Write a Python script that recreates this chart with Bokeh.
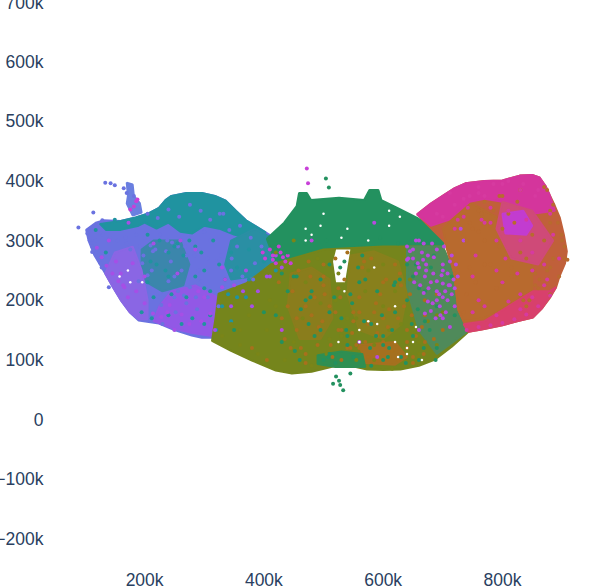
from bokeh.plotting import figure
from bokeh.models import FixedTicker
from bokeh.embed import file_html
from bokeh.resources import INLINE

x_ticks = [200, 400, 600, 800]
y_ticks = [-200, -100, 0, 100, 200, 300, 400, 500, 600, 700]
x_labels = ["200k", "400k", "600k", "800k"]
y_labels = ["\u2212200k", "\u2212100k", "0", "100k", "200k", "300k", "400k", "500k", "600k", "700k"]

# cluster envelopes (x, y in thousands)
lobe_x = [102,118,131,160,185,205,224,235,245,270,296,318,336,353,370,403,440,413,370,324,319,313,296,279,250,224,190,175,161,147,134,116,106]
lobe_y = [318,330,334,333,339,345,355,368,375,380,380,375,367,350,334,314,290,261,228,211,171,137,137,141,150,161,166,180,199,222,245,275,300]
bump_x = [170,180,182,192,195,180,170,172]
bump_y = [397,394,375,363,347,342,362,375]
teal_x = [125,160,185,205,224,235,245,270,296,318,336,353,370,403,385,350,325,300,280,260,240,220,200,190,160,135]
teal_y = [328,333,339,345,355,368,375,380,380,375,367,350,334,314,300,310,320,325,312,315,330,320,330,325,318,318]
teal2_x = [195,215,260,275,265,230,195]
teal2_y = [285,300,300,260,225,215,235]
teal3_x = [345,385,440,415,380,345,335]
teal3_y = [300,320,290,255,240,235,260]
purple_x = [215,250,280,313,322,322,285,245,225]
purple_y = [165,152,145,140,175,205,225,215,190]
purple2_x = [134,150,180,195,205,205,190,175,161,147]
purple2_y = [245,280,290,250,200,168,168,180,199,222]
dome_x = [405,434,455,459,472,479,526,568,577,592,597,627,657,674,703,690,640,600,560,500,450,420]
dome_y = [303,330,358,380,380,368,372,368,385,385,368,353,338,327,298,270,280,285,290,280,270,262]
body_x = [420,500,600,700,719,726,743,715,686,660,629,600,573,545,516,480,447,420,380,345,313,319,324,370,413]
body_y = [262,285,290,290,246,184,147,122,100,90,84,83,84,90,89,80,77,82,99,115,132,171,211,228,261]
brown_x = [545,585,625,640,630,600,560,540]
brown_y = [275,282,265,210,160,135,150,210]
brown2_x = [445,480,510,515,495,460,440]
brown2_y = [245,255,235,170,135,135,190]
brown3_x = [560,620,640,620,570]
brown3_y = [125,130,105,92,95]
greenlow_x = [490,530,565,570,520,490]
greenlow_y = [108,114,110,88,88,93]
midgreen_x = [640,700,719,726,740,690,660,640]
midgreen_y = [290,290,246,184,147,110,150,220]
right_x = [657,680,703,720,738,770,800,815,829,850,862,872,879,888,896,903,908,905,896,890,879,866,851,826,800,765,743,726,719,703,674]
right_y = [344,362,377,388,396,400,401,405,409,410,406,392,377,358,339,310,282,262,241,222,203,186,171,165,158,151,147,184,246,298,327]
rust_x = [700,745,790,820,850,850,810,770,735,726,719,705]
rust_y = [320,365,340,290,260,215,190,170,165,184,246,298]
pink_x = [735,770,810,851,879,890,866,851,826,800,765,743]
pink_y = [160,165,190,215,215,222,186,171,165,158,151,147]
magenta_x = [657,680,703,720,738,770,800,815,829,850,862,872,879,888,850,820,800,770,745,710,680]
magenta_y = [344,362,377,388,396,400,401,405,409,410,406,392,377,350,345,335,365,370,365,335,325]
magenta2_x = [800,850,885,860,815,790]
magenta2_y = [365,350,300,260,270,320]
orchid_x = [800,835,850,840,805]
orchid_y = [345,350,325,310,312]
hole_x = [521,545,536,521,516]
hole_y = [285,285,230,230,265]

# scattered single points
blue_px = [134,143,150,165,170,182,112,118,128,89,114,129,121,126,108,112,140,176,168,244,262,300,332,355,385,250,228,305,345,290,198,212,272,230,
           104,110,120,130,142,155,170,186,205,222,240,258,276,294,310,326,342,360,378,396,252,270,288,306,324,238,256,274,292,310,328,346,364,382,
           192,200,210,218,226,236,246,256,266,276,286,296,190,205,222,240,268,284,196,214,232,250,270,290,300,320]
blue_py = [397,396,393,388,380,375,281,300,255,322,347,334,275,262,300,290,222,285,305,265,250,315,345,290,262,205,192,270,250,235,275,250,225,160,
           312,296,285,310,305,300,295,310,345,338,352,340,360,350,335,345,318,325,305,290,180,195,185,205,190,300,290,305,285,300,275,270,240,235,
           290,305,292,285,310,282,297,215,208,222,205,232,232,242,206,232,290,275,262,282,210,240,275,250,315,265]
teal_px = [150,165,240,270,300,335,355,250,220,195,310,345,375,262,240,275,330,300,285,212,135,118,
           205,225,255,285,315,345,375,405,210,235,265,295,325,355,215,245,280,310,340,370,400,420,300,320,240,205]
teal_py = [335,325,240,205,220,235,205,290,260,180,175,165,235,160,175,300,190,250,240,170,280,318,
           310,300,295,290,300,280,285,270,265,250,275,280,260,255,205,210,170,215,210,205,265,250,160,150,280,230]
purple_px = [173,164,180,200,215,140,152,160,255,300,330,370,390,410,345,380,285,238,330,420,405,430,250,260,290,
             120,128,136,146,156,166,172,186,200,214,228,242,262,275,295,310,318,335,350,365]
purple_py = [330,225,262,240,295,300,265,245,245,205,222,250,215,240,190,190,285,180,255,275,240,255,150,300,215,
             288,272,258,245,232,222,205,215,195,178,172,192,176,160,165,178,150,235,225,215]
magenta_px = [182,186,176,188,472,474,398,415,432,445,402,410,420,428,436,425,415,440]
magenta_py = [357,366,352,369,421,396,280,268,272,262,270,285,262,280,265,290,275,275]
olive_px = [420,450,490,530,575,610,640,700,680,360,410,470,505,585,620,660,690,555,600,520,
            330,345,360,375,390,405,420,435,450,465,480,495,510,525,540,555,570,585,600,615,630,645,660,675,690]
olive_py = [280,300,270,140,250,150,110,180,230,150,200,230,110,100,215,130,175,170,260,200,
            140,160,125,175,110,150,190,100,130,170,90,195,135,245,170,100,215,125,190,85,160,235,110,165,125]
brown_px = [380,430,470,520,540,600,640,670,690,640,405,500,560,610,670,700,590,455,485,530,
            440,462,478,498,512,528,548,568,588,608,628,648,668,560,580,600,620,640,500,540,
            425,448,470,492,515,535,555,575,595,615,635,655,435,458,480,502,525,545,565,585,605,625,645,665,685,520,560,600,640,445,
            470,510,550,590,630,670,490,530,570,610,650,455,475,500,525,550,575,600,625,650]
brown_py = [120,170,110,180,120,230,200,130,210,120,100,225,180,105,175,150,140,150,205,150,
            190,120,240,165,125,205,145,265,195,155,245,175,110,120,270,100,260,150,260,280,
            230,215,190,155,105,235,125,160,210,115,190,140,135,250,175,210,150,120,255,180,235,100,210,155,135,270,205,170,130,120,
            95,190,165,145,225,200,125,100,130,185,105,170,265,240,220,180,105,130,170,95]
green_px = [350,400,430,470,510,545,580,620,650,680,700,560,600,640,530,455,495,670,690,620,516,521,533,545,526,528,504,509,
            440,470,505,535,565,595,625,655,685,715,520,550,580,610,640,670,700,720,480,510,540,570,600,630,660,690,460,500,600,660,
            430,452,475,495,518,538,558,578,598,618,638,658,678,440,462,485,508,528,548,568,588,608,628,648,668,688,420,450,478,510,540,590,615,650]
green_py = [150,180,130,200,110,210,160,180,140,255,205,230,100,260,170,240,150,215,120,230,60,72,49,77,65,58,404,389,
            280,295,300,265,275,305,295,260,275,240,95,105,90,120,200,165,250,175,215,180,140,235,125,105,220,190,100,100,140,100,
            245,115,160,235,205,150,255,120,175,225,95,185,150,215,185,140,105,255,195,165,140,105,235,160,120,100,175,240,205,260,125,215,150,240]
lilac_px = [660,675,690,700,715,720,680,700,665,710,722,690,705,640,650,670,700,735,660,590,560,480,430,585,
            690,700,712,683,695,708,672,660,650,668,702,715,725,688,676,642,655,730,
            645,658,672,685,698,712,655,668,680,694,708,720,662,675,690,704,718,670,684,700,640,652,667,682,696,712]
lilac_py = [300,275,285,250,210,190,230,260,280,225,260,200,180,290,270,240,170,300,150,105,130,300,150,330,
            215,205,225,195,190,200,260,255,285,295,290,275,240,170,220,270,300,320,
            282,262,250,272,242,265,245,212,182,210,245,220,225,198,232,215,235,178,245,228,268,230,268,295,175,155]
rust_px = [760,800,830,870,880,850,900,905,770,750,820,870,745,790,820,860,840,880,895,880,
           875,885,893,899,904,909,880,862,845,830,815,795,780,760,745,770,800,740,735,
           735,750,765,780,795,810,825,840,855,870,885,725,740,755,770,785,815,835,855,875]
rust_py = [350,375,385,390,350,310,300,270,300,280,330,260,330,220,240,220,190,210,240,330,
           385,360,330,310,290,268,255,235,200,280,255,290,260,315,255,365,320,210,180,
           340,320,345,325,375,345,365,270,245,300,270,250,300,230,260,350,240,200,225,250]
pink_px = [750,790,720,770,810,850,760,735,790,830,760,780,830,870,
           740,760,780,800,820,840,860,880,750,770,790,810,830,850,870,800,825,850,875,720,700,690,712,735,
           760,785,810,835,860,885,770,800,830,855,880,745,755,780,805,840,895,725,742,765]
pink_py = [240,300,320,330,350,280,200,370,250,210,380,330,300,260,
           150,155,158,162,168,176,190,208,180,190,175,198,185,205,225,230,245,250,235,360,340,345,380,340,
           390,395,400,395,385,310,375,395,385,375,345,375,275,355,270,335,270,335,355,335]
gap_px = [176,196,470,480,540,560,620,625,640,500,610,575,575,590,650,665,628,525,535,585,620,
          172,158,470,495,530,560,610,640,655]
gap_py = [230,230,320,310,320,130,130,105,110,345,350,300,165,160,130,100,340,130,215,255,190,
          250,240,300,325,305,150,325,120,155]

regions = [
    (lobe_x, lobe_y, "#6a72e0"), (bump_x, bump_y, "#6a7fe0"), (teal_x, teal_y, "#2093a0"),
    (teal2_x, teal2_y, "#3b86ac"), (teal3_x, teal3_y, "#2a8fa4"), (purple_x, purple_y, "#9258e6"),
    (purple2_x, purple2_y, "#8a66e4"), (dome_x, dome_y, "#23915f"), (body_x, body_y, "#75851c"),
    (midgreen_x, midgreen_y, "#4f8a5a"), (brown_x, brown_y, "#88801c"), (brown2_x, brown2_y, "#8a7d1c"),
    (brown3_x, brown3_y, "#a5701f"), (greenlow_x, greenlow_y, "#2f8f52"), (right_x, right_y, "#c0603a"),
    (rust_x, rust_y, "#b86a2e"), (pink_x, pink_y, "#d8406c"), (magenta_x, magenta_y, "#d4359c"),
    (magenta2_x, magenta2_y, "#cf4a78"), (orchid_x, orchid_y, "#c23cd0"), (hole_x, hole_y, "#ffffff"),
]
dots = [
    (blue_px, blue_py, "#6a72e0", 4), (teal_px, teal_py, "#2093a0", 4), (purple_px, purple_py, "#a64fe6", 4),
    (magenta_px, magenta_py, "#c840d8", 4), (olive_px, olive_py, "#7a8518", 4), (brown_px, brown_py, "#a8701c", 4),
    (green_px, green_py, "#23915f", 4), (lilac_px, lilac_py, "#b84ae0", 4), (rust_px, rust_py, "#b86a2e", 4),
    (pink_px, pink_py, "#d63aa0", 4), (gap_px, gap_py, "#ffffff", 2.5),
]

p = figure(width=597, height=600, output_backend="svg", toolbar_location=None,
           x_range=(64, 946), y_range=(-238, 716), min_border_left=70, min_border_right=0,
           min_border_top=0, min_border_bottom=20, outline_line_color=None,
           margin=(-8, 0, 0, -8))
p.grid.visible = False

for rx, ry, c in regions:
    p.patch(rx, ry, fill_color=c, line_color=c, line_width=2 if c != "#ffffff" else 0)
for dx, dy, c, s in dots:
    p.scatter(dx, dy, size=s, fill_color=c, line_color=None)

p.xaxis.ticker = FixedTicker(ticks=x_ticks)
p.yaxis.ticker = FixedTicker(ticks=y_ticks)
p.xaxis.major_label_overrides = dict(zip(x_ticks, x_labels))
p.yaxis.major_label_overrides = dict(zip(y_ticks, y_labels))
for ax in (p.xaxis, p.yaxis):
    ax.axis_line_color = None
    ax.major_tick_line_color = None
    ax.minor_tick_line_color = None
    ax.major_label_text_font = "Liberation Sans"
    ax.major_label_text_font_size = "17.5px"
    ax.major_label_text_color = "#2a3f5f"
p.xaxis.major_label_standoff = 2
p.yaxis.major_label_standoff = 14

open("out.html", "w").write(file_html(p, INLINE))
